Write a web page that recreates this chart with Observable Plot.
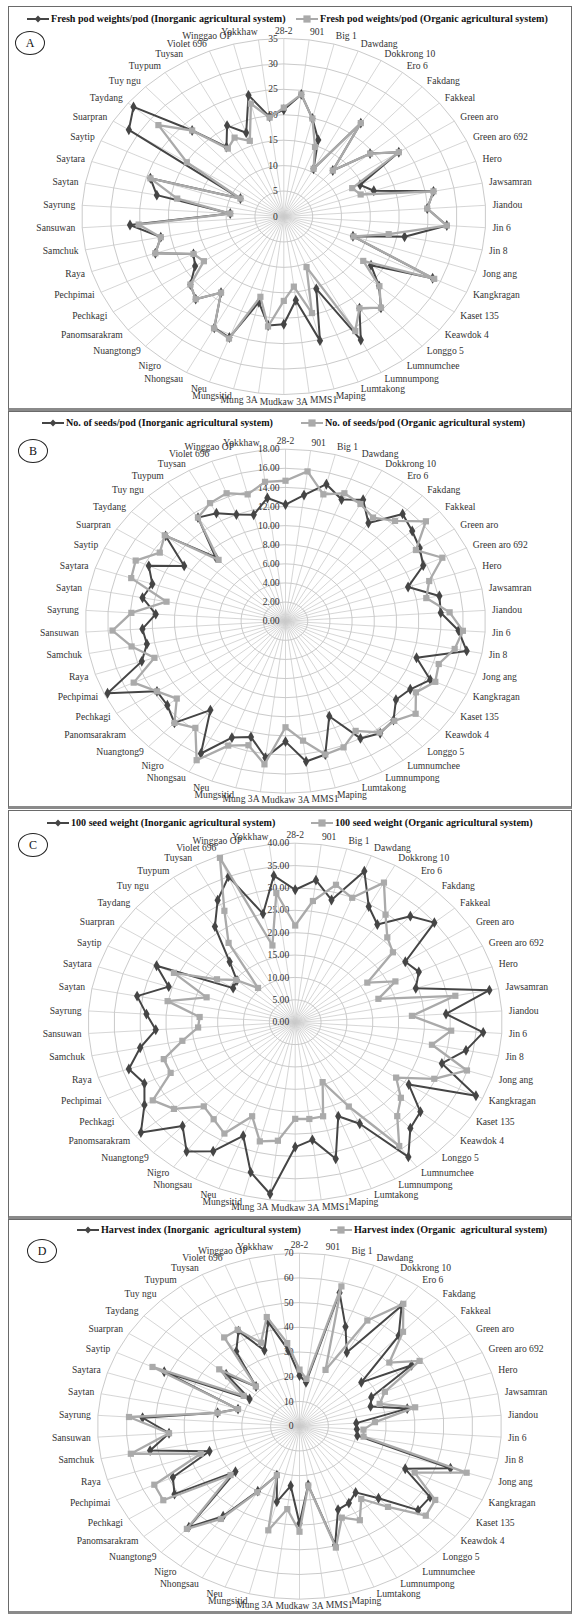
<!DOCTYPE html>
<html><head><meta charset="utf-8">
<script src="https://cdn.jsdelivr.net/npm/d3@7"></script>
<script src="https://cdn.jsdelivr.net/npm/@observablehq/plot@0.6"></script>
<style>
html,body{margin:0;padding:0;background:#fff;}
#page{position:relative;width:573px;height:1614px;overflow:hidden;font-family:"Liberation Serif","Times New Roman",serif;background:#fff;}
.box{position:absolute;box-sizing:border-box;border:1.3px solid #6a6a6a;border-bottom:3px solid #8a8a8a;}
.leg{position:absolute;display:flex;align-items:center;font-weight:bold;font-size:10.1px;color:#111;white-space:pre;line-height:12px;}
.leg svg{margin-right:2px;}
.letter{position:absolute;box-sizing:border-box;border:1px solid #222;border-radius:50%;text-align:center;font-size:12px;color:#111;}
.panel{position:absolute;left:0;}
</style></head>
<body><div id="page"></div>
<script>
// ---------- data ----------
const categories = ["28-2","901","Big 1","Dawdang","Dokkrong 10","Ero 6","Fakdang","Fakkeal","Green aro","Green aro 692",
 "Hero","Jawsamran","Jiandou","Jin 6","Jin 8","Jong ang","Kangkragan","Kaset 135","Keawdok 4","Longgo 5",
 "Lumnumchee","Lumnumpong","Lumtakong","Maping","MMS1","Mudkaw 3A","Mung 3A","Mungsitid","Neu","Nhongsau",
 "Nigro","Nuangtong9","Panomsarakram","Pechkagi","Pechpimai","Raya","Samchuk","Sansuwan","Sayrung","Saytan",
 "Saytara","Saytip","Suarpran","Taydang","Tuy ngu","Tuypum","Tuysan","Violet 696","Winggao OP","Yokkhaw"];

const freshPodInorganic = [21.0,24.2,19.9,16.2,10.7,22.7,12.4,19.4,23.6,14.6, 16.4,26.4,24.9,28.3,21.3,12.6,28.5,17.9,21.4,24.6,
 22.3,27.7,15.3,25.2,16.6,21.2,21.6,17.4,25.6,25.0, 18.5,22.3,21.0,18.2,17.3,23.4,21.7,26.7,9.3,22.4, 24.3,8.3,31.8,33.8,23.2,16.9,20.4,17.7,24.6,19.8];
const freshPodOrganic = [21.4,24.2,19.9,14.7,10.7,22.7,12.4,19.4,23.6,13.1, 14.0,26.4,24.9,28.3,18.5,12.7,28.8,16.3,21.5,24.6,
 22.3,25.7,10.7,19.6,13.9,16.6,21.8,16.3,25.8,25.1, 18.5,22.3,21.0,16.4,17.3,23.4,21.7,25.2,9.3,18.8, 24.3,8.3,19.9,28.2,23.2,16.5,17.7,16.0,22.9,19.6];

const seedsInorganic = [12.2,13.3,14.8,13.7,14.5,12.7,15.4,14.8,14.3,13.7, 11.6,14.1,14.0,15.6,16.6,12.4,14.4,13.3,12.9,14.2,
 14.5,14.0,10.7,14.4,14.8,12.6,14.4,12.5,13.1,15.8, 11.5,14.6,13.8,13.7,17.7,13.6,12.7,12.9,11.7,13.1, 12.6,13.6,10.8,14.0,9.2,13.4,12.9,12.0,11.5,13.0];
const seedsOrganic = [14.7,15.8,13.7,14.4,14.0,13.4,14.4,16.4,13.9,15.6, 13.6,12.9,14.8,16.0,15.5,14.5,14.9,13.9,15.2,14.3,
 14.4,13.1,14.2,14.4,12.6,11.1,15.1,13.4,14.0,16.6, 13.8,14.6,12.7,13.7,15.1,12.4,14.1,15.6,13.9,10.9, 14.6,14.9,13.4,14.1,8.8,13.4,14.1,14.4,13.7,14.7];

const seedWeightInorganic = [29.6,32.0,28.2,36.3,29.5,27.0,32.5,34.9,25.2,26.4, 24.5,38.2,29.2,36.4,33.6,29.8,38.6,26.0,31.4,32.5,
 37.2,25.9,22.6,31.5,26.5,27.9,38.7,34.6,27.3,32.9, 35.7,31.8,38.7,34.5,32.2,33.8,30.5,27.0,28.8,31.1, 25.7,29.6,14.2,14.6,18.5,26.4,31.1,35.0,25.0,33.0];
const seedWeightOrganic = [21.6,27.3,31.7,29.9,35.6,29.7,26.0,24.5,16.5,21.4, 16.9,31.5,22.6,30.2,26.9,34.9,29.7,23.1,26.5,28.8,
 34.2,21.5,14.4,21.7,21.8,21.6,26.7,27.5,22.6,28.4, 26.8,25.8,30.4,32.6,26.6,26.7,22.2,18.8,18.5,25.1, 18.0,25.9,17.9,14.8,10.5,21.9,28.4,39.5,17.7,29.1];

const harvestInorganic = [20.5,17.9,55.8,43.3,34.0,60.2,50.2,27.8,46.0,27.5, 25.9,38.0,19.7,19.9,20.4,55.0,40.5,53.6,53.3,40.0,
 33.1,35.5,36.3,49.6,24.0,39.3,24.3,31.6,21.3,30.0, 45.0,56.0,28.8,51.3,48.5,32.8,52.7,45.3,54.5,28.9, 22.4,51.8,20.5,33.0,22.0,37.3,43.9,33.0,43.6,31.0];
const harvestOrganic = [22.9,19.3,58.4,24.5,48.8,61.2,52.4,40.4,49.3,32.7, 29.2,40.8,26.2,22.2,22.6,60.9,44.1,55.7,56.8,44.8,
 36.4,43.4,39.8,50.7,24.2,42.7,33.8,43.5,21.3,30.5, 46.4,57.0,31.0,55.9,55.6,36.0,59.5,45.3,59.2,28.9, 22.4,56.3,22.9,36.1,22.1,44.4,44.5,36.3,45.6,33.9];

const freshPodTicks = ["0","5","10","15","20","25","30","35"];
const seedsTicks = ["0.00","2.00","4.00","6.00","8.00","10.00","12.00","14.00","16.00","18.00"];
const seedWeightTicks = ["0.00","5.00","10.00","15.00","20.00","25.00","30.00","35.00","40.00"];
const harvestTicks = ["0","10","20","30","40","50","60","70"];

const freshPodLegend = ["Fresh pod weights/pod (Inorganic agricultural system)","Fresh pod weights/pod (Organic agricultural system)"];
const seedsLegend = ["No. of seeds/pod (Inorganic agricultural system)","No. of seeds/pod (Organic agricultural system)"];
const seedWeightLegend = ["100 seed weight (Inorganic agricultural system)","100 seed weight (Organic agricultural system)"];
const harvestLegend = ["Harvest index (Inorganic  agricultural system)","Harvest index (Organic  agricultural system)"];

// ---------- layout ----------
const FONT = '"Liberation Serif","Times New Roman",serif';
const DARK = "#454545", LIGHT = "#aaaaaa";
const panels = [
  {letter:"A", inorganic:freshPodInorganic, organic:freshPodOrganic, ticks:freshPodTicks, legend:freshPodLegend,
   top:6, height:405, cx:283.3, cy:210, rx:202, ry:178, legY:19, legX:[27,296], letterPos:[30,43]},
  {letter:"B", inorganic:seedsInorganic, organic:seedsOrganic, ticks:seedsTicks, legend:seedsLegend,
   top:411, height:398, cx:285, cy:209.7, rx:200, ry:172, legY:423, legX:[42,301], letterPos:[33,451]},
  {letter:"C", inorganic:seedWeightInorganic, organic:seedWeightOrganic, ticks:seedWeightTicks, legend:seedWeightLegend,
   top:810, height:409, cx:294.7, cy:211.7, rx:207, ry:179, legY:823, legX:[47,311], letterPos:[33,845]},
  {letter:"D", inorganic:harvestInorganic, organic:harvestOrganic, ticks:harvestTicks, legend:harvestLegend,
   top:1219, height:395, cx:299, cy:206.7, rx:202, ry:173, legY:1230, legX:[77,330], letterPos:[42,1251]}
];

const page = document.getElementById("page");
const N = categories.length;
const angle = i => 2 * Math.PI * i / N;

function swatch(color, symbol) {
  const m = symbol === "diamond"
    ? `<path d="M11,1.6 L14.4,5 L11,8.4 L7.6,5 Z" fill="${color}"/>`
    : `<rect x="7.4" y="1.4" width="7.2" height="7.2" fill="${color}"/>`;
  return `<svg width="22" height="10"><line x1="0" y1="5" x2="22" y2="5" stroke="${color}" stroke-width="2"/>${m}</svg>`;
}

panels.forEach(p => {
  const box = document.createElement("div");
  box.className = "box";
  Object.assign(box.style, {left: "8px", top: p.top + "px", width: "564px", height: p.height + "px"});
  page.appendChild(box);

  const max = +p.ticks[p.ticks.length - 1];
  const pos = (v, i) => ({x: v / max * Math.sin(angle(i)), y: v / max * Math.cos(angle(i))});
  const series = vals => vals.map((v, i) => ({cat: categories[i], v, ...pos(v, i)}));
  const rings = p.ticks.slice(1).flatMap(t => categories.map((c, i) => ({t, ...pos(+t, i)})));
  const labels = categories.map((c, i) => {
    const s = Math.sin(angle(i)), co = Math.cos(angle(i));
    return {c, s, x: s + 7 * s / p.rx, y: co + (co > 0 ? 8 : 7) * co / p.ry};
  });
  const labelMark = (filter, anchor) => Plot.text(labels.filter(filter), {
    x: "x", y: "y", text: "c", textAnchor: anchor, lineAnchor: "middle",
    fontSize: 9.6, fill: "#333", fontFamily: FONT
  });

  const svg = Plot.plot({
    width: 573, height: p.height, margin: 0,
    x: {domain: [-1, 1], range: [p.cx - p.rx, p.cx + p.rx], axis: null},
    y: {domain: [-1, 1], range: [p.cy + p.ry, p.cy - p.ry], axis: null},
    style: {background: "transparent", fontFamily: FONT, overflow: "visible"},
    marks: [
      Plot.link(categories, {x1: () => 0, y1: () => 0, x2: (d, i) => Math.sin(angle(i)), y2: (d, i) => Math.cos(angle(i)),
        stroke: "#cbcbcb", strokeWidth: 0.8}),
      Plot.line(rings, {x: "x", y: "y", z: "t", curve: "linear-closed", stroke: "#c4c4c4", strokeWidth: 0.9}),
      Plot.text(p.ticks, {x: () => 0, y: d => +d / max, text: d => d, textAnchor: "end", dx: -6,
        fontSize: 9.6, fill: "#333", fontFamily: FONT}),
      labelMark(d => d.s > 0.05, "start"),
      labelMark(d => d.s < -0.05, "end"),
      labelMark(d => Math.abs(d.s) <= 0.05, "middle"),
      Plot.line(series(p.inorganic), {x: "x", y: "y", curve: "linear-closed", stroke: DARK, strokeWidth: 2}),
      Plot.dot(series(p.inorganic), {x: "x", y: "y", symbol: "diamond", r: 3.3, fill: DARK}),
      Plot.line(series(p.organic), {x: "x", y: "y", curve: "linear-closed", stroke: LIGHT, strokeWidth: 2.3}),
      Plot.dot(series(p.organic), {x: "x", y: "y", symbol: "square", r: 3.5, fill: LIGHT})
    ]
  });
  const wrap = document.createElement("div");
  wrap.className = "panel";
  wrap.style.top = p.top + "px";
  wrap.appendChild(svg);
  page.appendChild(wrap);

  [[p.legend[0], DARK, "diamond", p.legX[0]], [p.legend[1], LIGHT, "square", p.legX[1]]].forEach(([txt, col, sym, x]) => {
    const lg = document.createElement("div");
    lg.className = "leg";
    lg.style.left = x + "px";
    lg.style.top = (p.legY - 6) + "px";
    lg.innerHTML = swatch(col, sym) + `<span>${txt}</span>`;
    page.appendChild(lg);
  });

  const le = document.createElement("div");
  le.className = "letter";
  Object.assign(le.style, {left: (p.letterPos[0] - 15) + "px", top: (p.letterPos[1] - 12) + "px",
    width: "30px", height: "24px", lineHeight: "22px"});
  le.textContent = p.letter;
  page.appendChild(le);
});
</script>
</body></html>
